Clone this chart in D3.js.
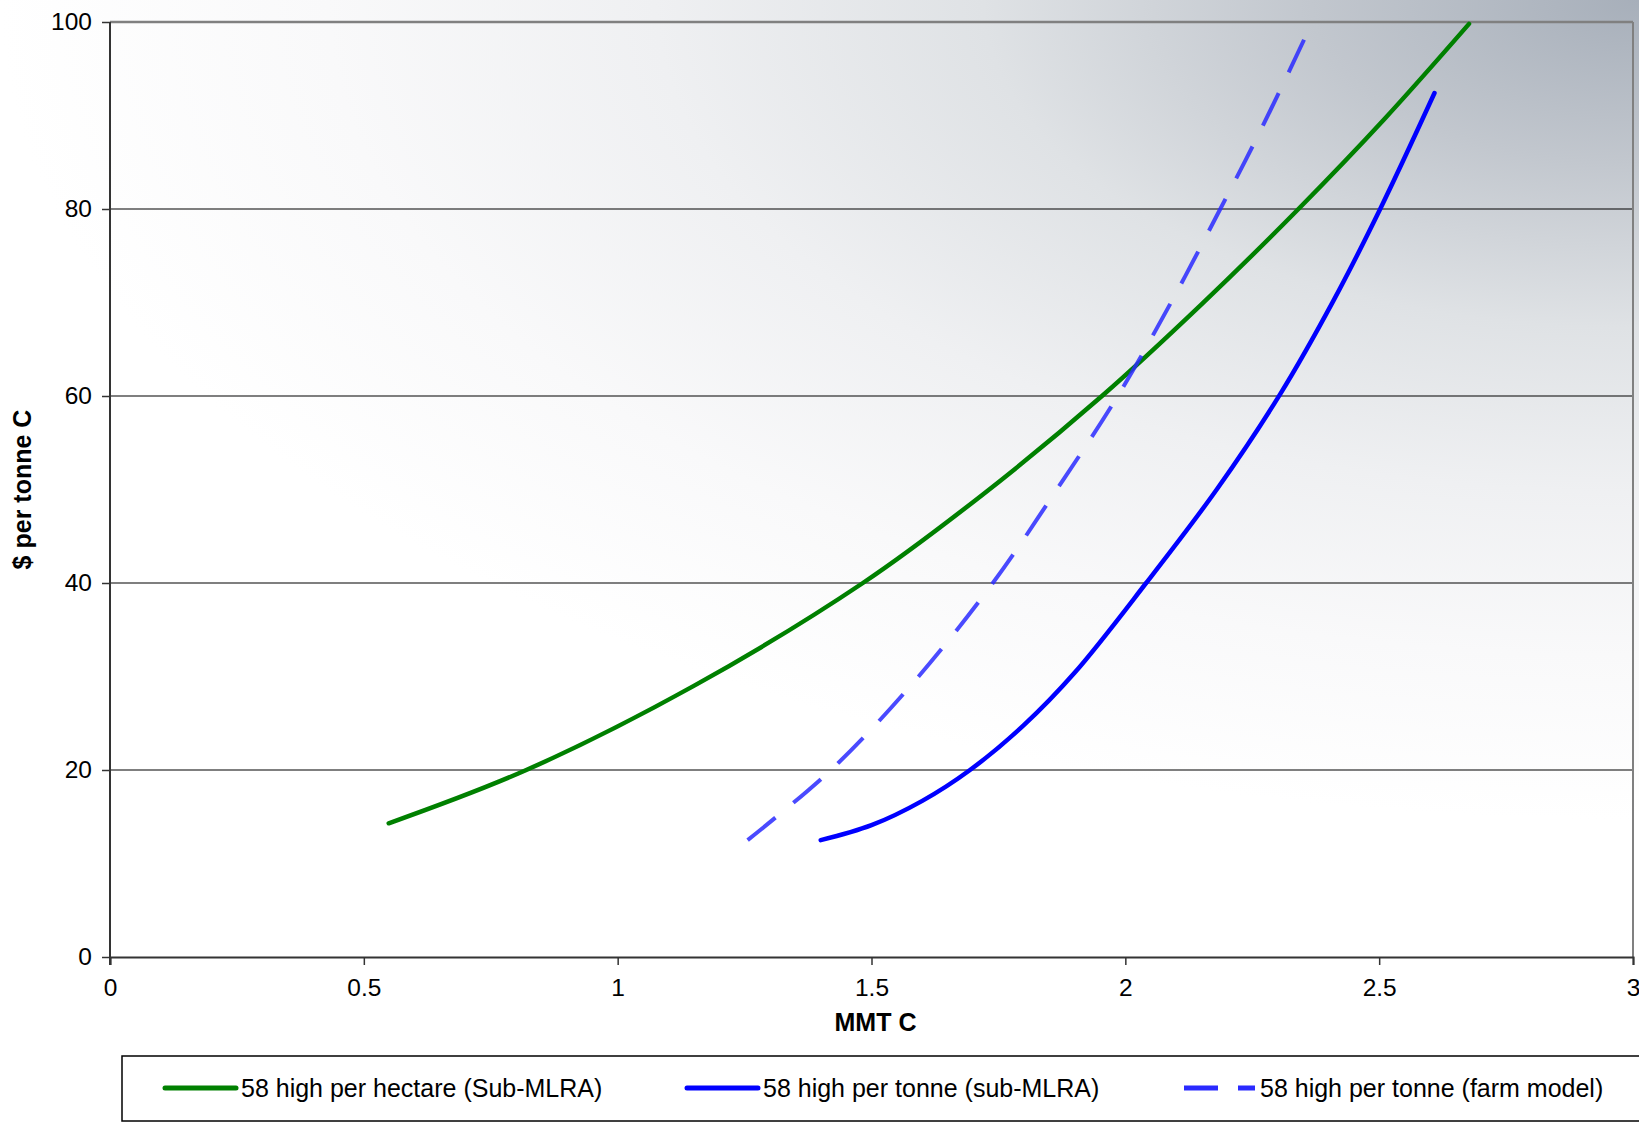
<!DOCTYPE html>
<html>
<head>
<meta charset="utf-8">
<script src="https://cdn.jsdelivr.net/npm/d3@7"></script>
<style>
  body { margin: 0; background: #fff; }
  svg { display: block; font-family: "Liberation Sans", Arial, sans-serif; }
</style>
</head>
<body>
<svg id="chart"></svg>
<script>
const width = 1639;
const height = 1125;

// --- Data ---
const xTicks = [0, 0.5, 1, 1.5, 2, 2.5, 3];
const yTicks = [0, 20, 40, 60, 80, 100];
const gridValues = [20, 40, 60, 80];

const hectareSub = [
  [0.549, 14.3], [0.82, 20.0], [1.15, 29.0], [1.483, 40.0], [1.72, 49.5],
  [1.954, 60.0], [2.15, 69.8], [2.341, 80.0], [2.51, 89.6], [2.677, 99.8]
];
const tonneSub = [
  [1.40, 12.5], [1.50, 14.1], [1.60, 16.7], [1.694, 20.0], [1.80, 24.8],
  [1.90, 30.4], [2.041, 40.0], [2.18, 50.0], [2.305, 60.2], [2.41, 70.2],
  [2.502, 80.0], [2.609, 92.4]
];
const tonneFarm = [
  [1.256, 12.5], [1.42, 20.0], [1.58, 29.2], [1.739, 40.0], [1.865, 50.0],
  [1.985, 60.0], [2.09, 70.0], [2.187, 80.0], [2.27, 88.8], [2.352, 98.1]
];

const seriesNames = [
  "58 high per hectare (Sub-MLRA)",
  "58 high per tonne (sub-MLRA)",
  "58 high per tonne (farm model)"
];

const series = [
  { name: seriesNames[0], values: hectareSub, color: "#008000", width: 4.5, dash: false, opacity: 1 },
  { name: seriesNames[1], values: tonneSub, color: "#0000ff", width: 4.5, dash: false, opacity: 1 },
  { name: seriesNames[2], values: tonneFarm, color: "#2a2aff", width: 4, dash: true, opacity: 0.85 }
];

const margin = { left: 110, right: 6, top: 22, bottom: 168 };

const svg = d3.select("#chart")
  .attr("width", width)
  .attr("height", height)
  .attr("viewBox", [0, 0, width, height]);

// --- Background corner gradient (from top-right) ---
const defs = svg.append("defs");
const grad = defs.append("radialGradient")
  .attr("id", "bg")
  .attr("gradientUnits", "userSpaceOnUse")
  .attr("cx", width).attr("cy", 0).attr("r", width)
  .attr("gradientTransform", `translate(${width},0) scale(1,0.5) translate(${-width},0)`);
[[0, "#a7afba"], [0.2, "#c2c7ce"], [0.4, "#dfe2e5"], [0.6, "#eff0f2"], [0.8, "#f9f9fa"], [1, "#ffffff"]]
  .forEach(([o, c]) => grad.append("stop").attr("offset", o).attr("stop-color", c));

svg.append("rect")
  .attr("width", width).attr("height", height)
  .attr("fill", "url(#bg)");

const x = d3.scaleLinear().domain([0, 3]).range([margin.left, width - margin.right]);
const y = d3.scaleLinear().domain([0, 100]).range([height - margin.bottom, margin.top]);

// --- Gridlines ---
svg.append("g")
  .selectAll("line")
  .data(gridValues)
  .join("line")
  .attr("x1", x(0)).attr("x2", x(3))
  .attr("y1", d => y(d)).attr("y2", d => y(d))
  .attr("stroke", "#000")
  .attr("stroke-width", 1.2);

// --- Plot border (top / right in grey) ---
svg.append("line")
  .attr("x1", x(0)).attr("x2", x(3))
  .attr("y1", y(100)).attr("y2", y(100))
  .attr("stroke", "#808080").attr("stroke-width", 2.5);
svg.append("line")
  .attr("x1", x(3)).attr("x2", x(3))
  .attr("y1", y(100)).attr("y2", y(0))
  .attr("stroke", "#808080").attr("stroke-width", 2);

// --- Axes ---
const xAxis = svg.append("g")
  .attr("transform", `translate(0,${y(0)})`)
  .call(d3.axisBottom(x).tickValues(xTicks).tickFormat(d3.format("~g")).tickSize(8).tickPadding(14));
const yAxis = svg.append("g")
  .attr("transform", `translate(${x(0)},0)`)
  .call(d3.axisLeft(y).tickValues(yTicks).tickSize(8).tickPadding(10));

[xAxis, yAxis].forEach(g => {
  g.select(".domain").attr("stroke", "#333").attr("stroke-width", 2);
  g.selectAll(".tick line").attr("stroke", "#333").attr("stroke-width", 1.5);
  g.selectAll(".tick text")
    .attr("fill", "#000")
    .attr("font-size", 24.5)
    .attr("font-family", "Liberation Sans, Arial, sans-serif");
});
yAxis.select(".domain").attr("d", `M0,${y(0) + 8}V${y(100)}`);

// --- Axis titles ---
svg.append("text")
  .attr("x", (x(0) + x(3)) / 2 + 4)
  .attr("y", 1031)
  .attr("text-anchor", "middle")
  .attr("font-size", 25)
  .attr("font-weight", "bold")
  .text("MMT C");

svg.append("text")
  .attr("transform", `translate(31,${(y(0) + y(100)) / 2}) rotate(-90)`)
  .attr("text-anchor", "middle")
  .attr("font-size", 25)
  .attr("font-weight", "bold")
  .text("$ per tonne C");

// --- Lines ---
const line = d3.line()
  .x(d => x(d[0]))
  .y(d => y(d[1]))
  .curve(d3.curveCatmullRom.alpha(0.5));

const paths = svg.append("g")
  .selectAll("path")
  .data(series)
  .join("path")
  .attr("d", d => line(d.values))
  .attr("fill", "none")
  .attr("stroke", d => d.color)
  .attr("stroke-width", d => d.width)
  .attr("stroke-opacity", d => d.opacity)
  .attr("stroke-linecap", d => d.dash ? "butt" : "round");

// dashes fitted so the line both starts and ends on a dash
paths.filter(d => d.dash).each(function () {
  const L = this.getTotalLength();
  const dash = 36;
  const n = Math.round((L - dash) / 58);
  const gap = (L - dash) / n - dash;
  d3.select(this).attr("stroke-dasharray", `${dash},${gap}`);
});

// --- Legend ---
const legend = svg.append("g");
legend.append("rect")
  .attr("x", 122).attr("y", 1056)
  .attr("width", 1540).attr("height", 65)
  .attr("fill", "#fff")
  .attr("stroke", "#000")
  .attr("stroke-width", 1.5);

const legendX = [165, 687, 1184];
const item = legend.selectAll("g.item")
  .data(series)
  .join("g")
  .attr("class", "item")
  .attr("transform", (d, i) => `translate(${legendX[i]},1088)`);

item.append("line")
  .attr("x1", 0).attr("x2", 71)
  .attr("y1", 0).attr("y2", 0)
  .attr("stroke", d => d.color)
  .attr("stroke-width", 5)
  .attr("stroke-dasharray", d => d.dash ? "34,20" : null)
  .attr("stroke-linecap", d => d.dash ? "butt" : "round");

item.append("text")
  .attr("x", 76)
  .attr("y", 9)
  .attr("font-size", 25)
  .text(d => d.name);
</script>
</body>
</html>
